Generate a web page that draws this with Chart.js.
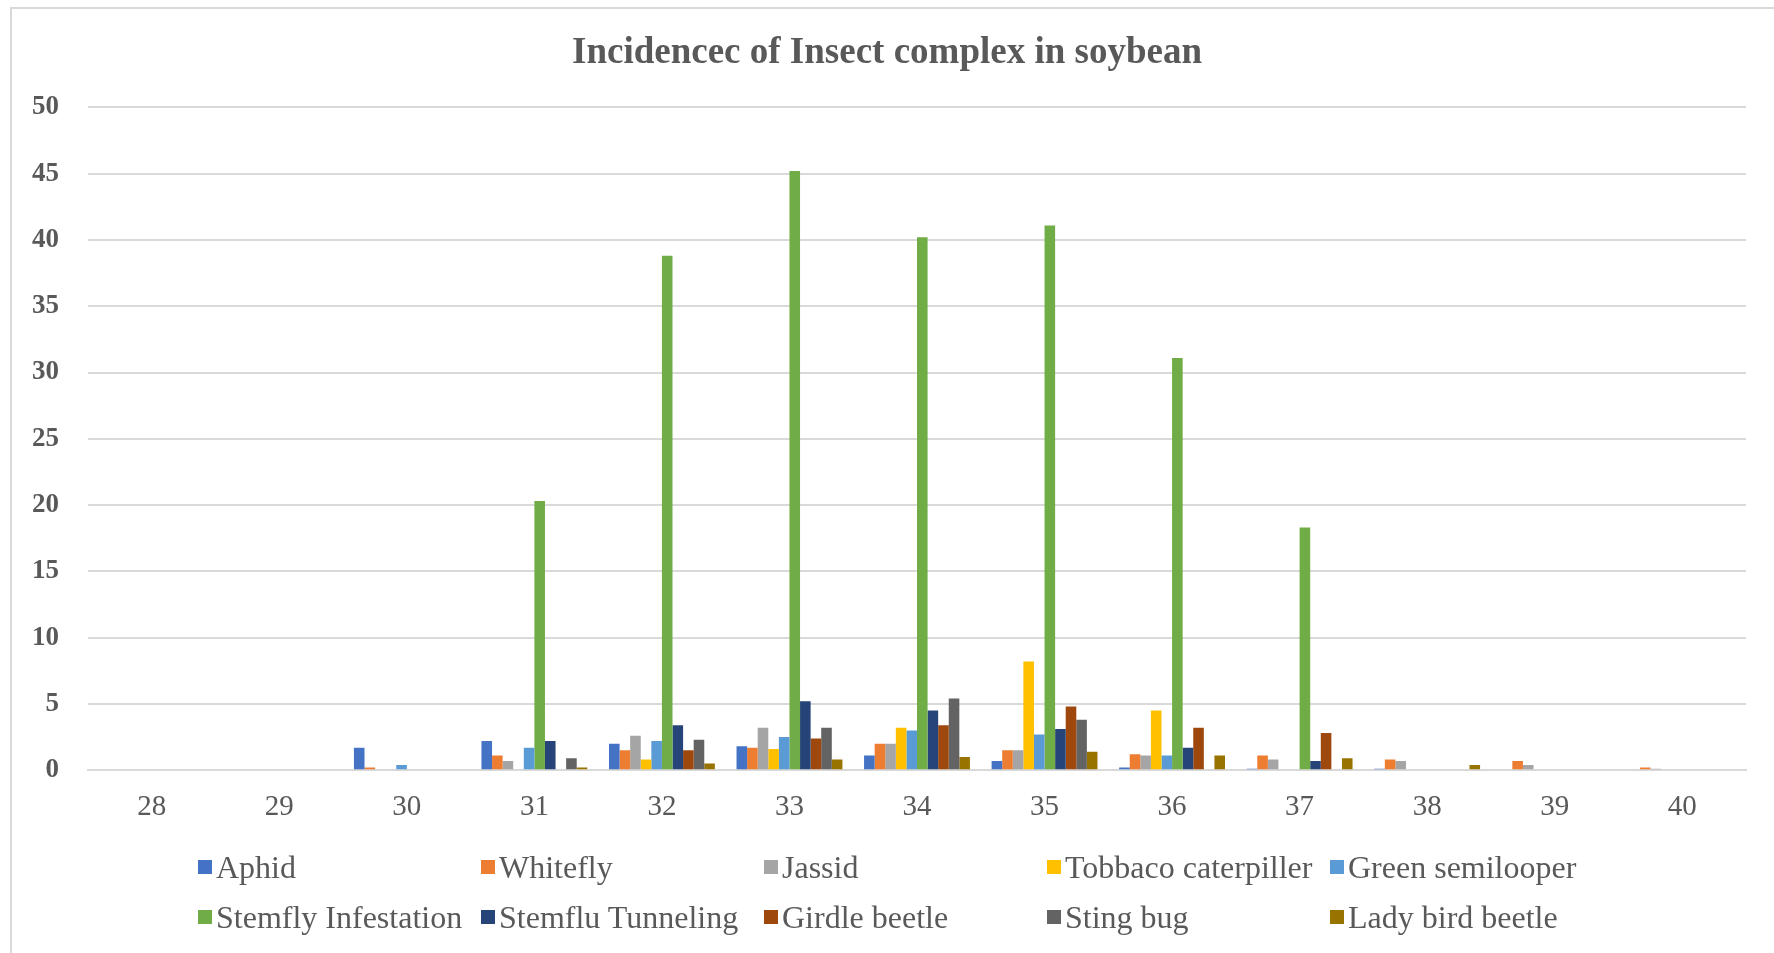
<!DOCTYPE html>
<html>
<head>
<meta charset="utf-8">
<script src="https://cdn.jsdelivr.net/npm/chart.js@4/dist/chart.umd.min.js"></script>
<style>
    html, body { margin: 0; padding: 0; background: #fff; }
    #wrap { position: relative; width: 1774px; height: 953px; overflow: hidden; }
    #frame { position: absolute; left: 10px; top: 7px; width: 1780px; height: 960px; border: 2px solid #D9D9D9; box-sizing: border-box; }
    #chart { position: absolute; left: 0; top: 0; }
    #legend { position: absolute; left: 198px; top: 842px; display: grid; grid-template-columns: repeat(5, 283px); grid-auto-rows: 50px; }
    .item { display: flex; align-items: center; font-family: 'Liberation Serif', serif; font-size: 32px; color: #595959; white-space: nowrap; }
    .box { width: 14px; height: 14px; margin-right: 4px; flex: none; }
</style>
</head>
<body>
<div id="wrap">
    <div id="frame"></div>
    <canvas id="chart" width="1774" height="953"></canvas>
    <div id="legend"></div>
</div>
<script>
// Standard weeks
const weeks = ['28', '29', '30', '31', '32', '33', '34', '35', '36', '37', '38', '39', '40'];

// Series values
const aphid        = [0, 0, 1.7, 2.2, 2.0, 1.8, 1.1, 0.7, 0.2, 0.1, 0.1, 0, 0];
const whitefly     = [0, 0, 0.2, 1.1, 1.5, 1.7, 2.0, 1.5, 1.2, 1.1, 0.8, 0.7, 0.2];
const jassid       = [0, 0, 0, 0.7, 2.6, 3.2, 2.0, 1.5, 1.1, 0.8, 0.7, 0.4, 0.1];
const tobacco      = [0, 0, 0, 0, 0.8, 1.6, 3.2, 8.2, 4.5, 0, 0, 0, 0];
const semilooper   = [0, 0, 0.4, 1.7, 2.2, 2.5, 3.0, 2.7, 1.1, 0, 0, 0, 0];
const stemfly      = [0, 0, 0, 20.3, 38.8, 45.2, 40.2, 41.1, 31.1, 18.3, 0, 0, 0];
const tunneling    = [0, 0, 0, 2.2, 3.4, 5.2, 4.5, 3.1, 1.7, 0.7, 0, 0, 0];
const girdle       = [0, 0, 0, 0, 1.5, 2.4, 3.4, 4.8, 3.2, 2.8, 0, 0, 0];
const stingBug     = [0, 0, 0, 0.9, 2.3, 3.2, 5.4, 3.8, 0, 0, 0, 0, 0];
const ladyBird     = [0, 0, 0, 0.2, 0.5, 0.8, 1.0, 1.4, 1.1, 0.9, 0.4, 0, 0];

const yTicks = [0, 5, 10, 15, 20, 25, 30, 35, 40, 45, 50];

const series = [
    { label: 'Aphid', data: aphid, color: '#4472C4' },
    { label: 'Whitefly', data: whitefly, color: '#ED7D31' },
    { label: 'Jassid', data: jassid, color: '#A5A5A5' },
    { label: 'Tobbaco caterpiller', data: tobacco, color: '#FFC000' },
    { label: 'Green semilooper', data: semilooper, color: '#5B9BD5' },
    { label: 'Stemfly Infestation', data: stemfly, color: '#70AD47' },
    { label: 'Stemflu Tunneling', data: tunneling, color: '#264478' },
    { label: 'Girdle beetle', data: girdle, color: '#9E480E' },
    { label: 'Sting bug', data: stingBug, color: '#636363' },
    { label: 'Lady bird beetle', data: ladyBird, color: '#997300' },
];

const ctx = document.getElementById('chart').getContext('2d');
const chart = new Chart(ctx, {
    type: 'bar',
    data: {
        labels: weeks,
        datasets: series.map(s => ({
            label: s.label,
            data: s.data,
            backgroundColor: s.color,
            borderWidth: 0,
            categoryPercentage: 0.83,
            barPercentage: 1.0,
        })),
    },
    options: {
        responsive: false,
        animation: false,
        layout: {
            padding: { left: 28, right: 28, top: 0, bottom: 116 },
        },
        scales: {
            x: {
                grid: { display: false },
                border: { display: true, color: '#D9D9D9', width: 2 },
                ticks: {
                    color: '#595959',
                    padding: 12,
                    font: { family: 'Liberation Serif', size: 29 },
                },
            },
            y: {
                min: 0,
                max: 50,
                afterFit: (scale) => { scale.width = 60; },
                afterBuildTicks: (scale) => { scale.ticks = yTicks.map(v => ({ value: v })); },
                grid: { color: '#D9D9D9', lineWidth: 2, drawTicks: false },
                border: { display: false },
                ticks: {
                    color: '#595959',
                    padding: 29,
                    font: { family: 'Liberation Serif', size: 27, weight: 'bold' },
                },
            },
        },
        plugins: {
            legend: { display: false },
            tooltip: { enabled: false },
            title: {
                display: true,
                text: 'Incidencec of Insect complex in soybean',
                color: '#595959',
                padding: { top: 31, bottom: 32 },
                font: { family: 'Liberation Serif', size: 37, weight: 'bold' },
            },
        },
    },
});

// Legend laid out in fixed columns like the original
const legendEl = document.getElementById('legend');
series.forEach(s => {
    const item = document.createElement('div');
    item.className = 'item';
    item.innerHTML = '<span class="box" style="background:' + s.color + '"></span>' + s.label;
    legendEl.appendChild(item);
});
</script>
</body>
</html>
